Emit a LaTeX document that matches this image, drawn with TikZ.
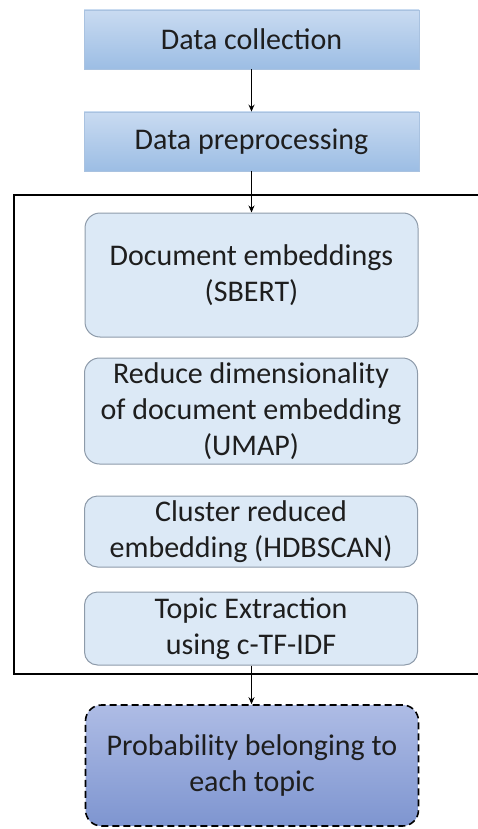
\documentclass[tikz,border=0pt]{standalone}
\usepackage{fontspec}
\setmainfont{Carlito}
\usetikzlibrary{arrows.meta}
\definecolor{headtop}{HTML}{C9DBF1}
\definecolor{headbot}{HTML}{9CBDE4}
\definecolor{headline}{HTML}{A9C2E0}
\definecolor{innerfill}{HTML}{DCE9F6}
\definecolor{innerline}{HTML}{8E9BAA}
\definecolor{resulttop}{HTML}{AEBCE5}
\definecolor{resultbot}{HTML}{7E95D0}
\definecolor{ink}{HTML}{1E1E1E}
\begin{document}
\begin{tikzpicture}[x=1pt,y=-1pt,
  font=\fontsize{30}{36}\selectfont,
  every node/.style={text=ink, align=center, inner sep=0pt},
  headbox/.style={draw=headline, line width=0.8pt, top color=headtop, bottom color=headbot,
    minimum width=335pt, minimum height=59pt},
  stagebox/.style={draw=innerline, line width=1pt, fill=innerfill, rounded corners=15pt,
    minimum width=333pt},
  resultbox/.style={draw=black, line width=1.6pt, dash pattern=on 7pt off 4pt,
    rounded corners=16pt, top color=resulttop, bottom color=resultbot,
    minimum width=333pt, minimum height=121pt},
  flow/.style={draw=black, line width=1.5pt, -{Stealth[length=7pt,width=6pt]}},
  frameline/.style={draw=black, line width=2.2pt}]
\useasboundingbox (0,0) rectangle (478,829);

% header steps
\node[headbox] (collect) at (251.5,39.5) {Data collection};
\node[headbox] (prep) at (251.5,141.5) {Data preprocessing};

% BERTopic pipeline stages
\node[stagebox, minimum height=124pt] (embed) at (251.5,275) {Document embeddings\\(SBERT)};
\node[stagebox, minimum height=106pt] (umap) at (251,411) {Reduce dimensionality\\of document embedding\\(UMAP)};
\node[stagebox, minimum height=71pt, rounded corners=13pt] (hdb) at (251,531.5) {Cluster reduced\\embedding (HDBSCAN)};
\node[stagebox, minimum height=73pt, rounded corners=13pt] (ctfidf) at (251,628.5) {Topic Extraction\\using c-TF-IDF};

% output
\node[resultbox] (prob) at (252,765.5) {Probability belonging to\\each topic};

% frame around the pipeline
\coordinate (ftr) at (478,195);
\coordinate (ftl) at (14,195);
\coordinate (fbl) at (14,674);
\coordinate (fbr) at (478,674);
\draw[frameline] (ftr) -- (ftl) -- (fbl) -- (fbr);

% connectors
\draw[flow] (collect) -- (prep);
\draw[flow] (prep) -- (embed.north -| prep.south);
\draw[flow] (ctfidf.south -| prep.south) -- (prob.north -| prep.south);
\end{tikzpicture}
\end{document}
